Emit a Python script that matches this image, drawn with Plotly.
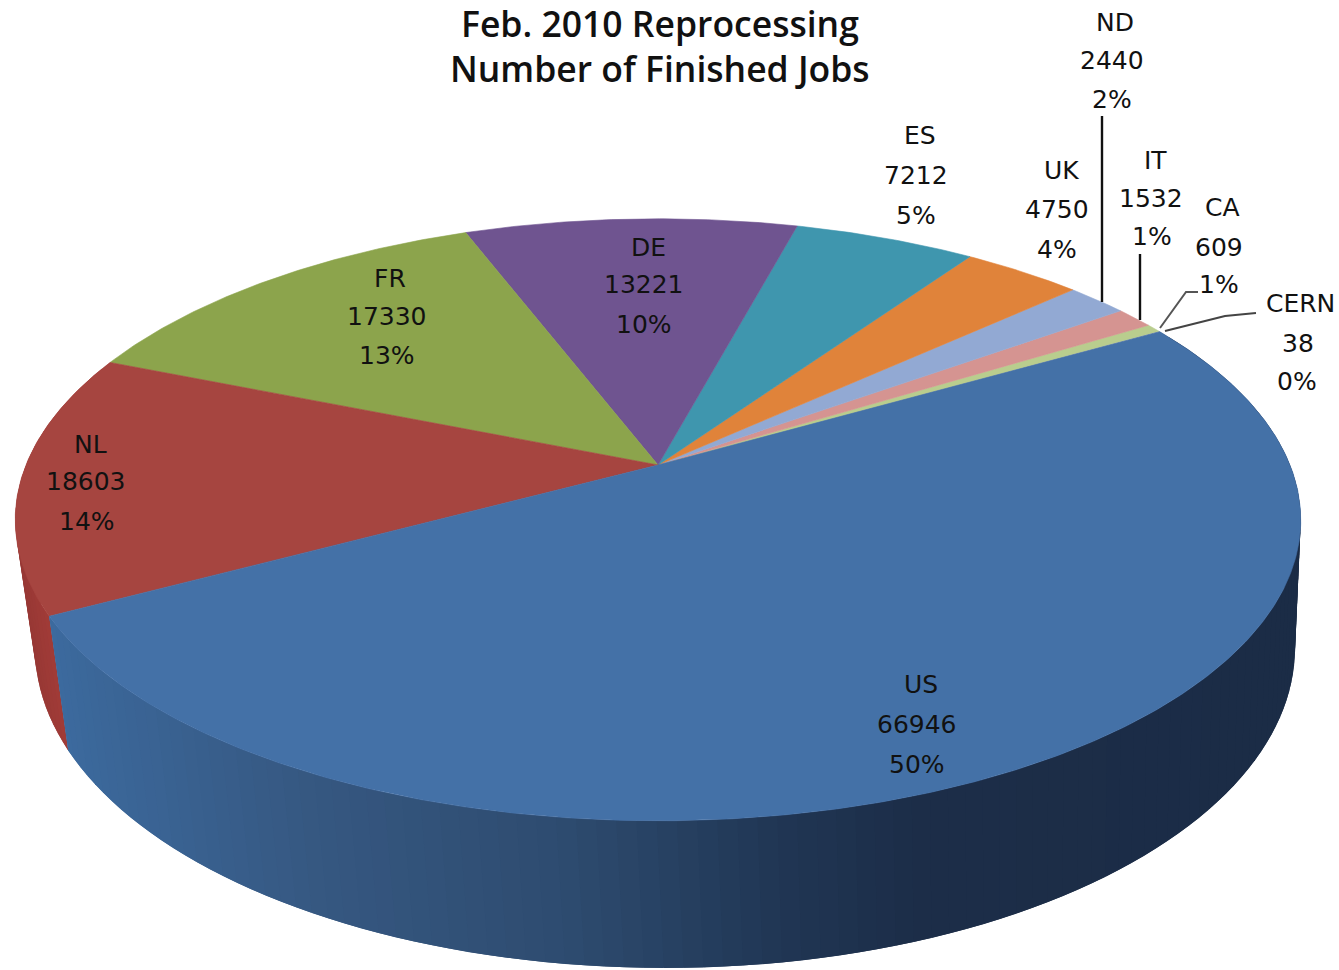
import numpy as np
import plotly.graph_objects as go

# Finished reprocessing jobs per cloud, in clockwise slice order
clouds = ["US", "NL", "FR", "DE", "ES", "UK", "ND", "IT", "CA", "CERN"]
jobs = [66946, 18603, 17330, 13221, 7212, 4750, 2440, 1532, 609, 38]
percent_labels = ["50%", "14%", "13%", "10%", "5%", "4%", "2%", "1%", "1%", "0%"]

slice_colors = ["#4471A7", "#A64540", "#8CA44C", "#6F5490", "#3F96AE",
                "#E0833A", "#92A9D3", "#D59491", "#B9CD8E", "#A99BBD"]

# Centre of each of the three text lines of a label (name, count, percent)
label_lines = {
    "US": [(921, 684), (917, 724), (917, 764)],
    "NL": [(90, 444), (86, 481), (87, 521)],
    "FR": [(390, 278), (387, 316), (387, 355)],
    "DE": [(648, 247), (644, 284), (644, 324)],
    "ES": [(920, 135), (916, 175), (916, 215)],
    "UK": [(1061, 170), (1057, 209), (1057, 249)],
    "ND": [(1115, 22), (1112, 60), (1112, 99)],
    "IT": [(1155, 160), (1151, 198), (1152, 236)],
    "CA": [(1222, 207), (1219, 247), (1219, 284)],
    "CERN": [(1300, 303), (1298, 343), (1297, 381)],
}

START_DEG = 30.0
TILT = 0.1821
TOP_RIM = dict(cx=658.0, cy=465.0, ax=632.0, ay=291.0)
BOTTOM_RIM = dict(cx=665.0, cy=589.7, ax=619.5, ay=309.4)


def project(deg, rim, radius=1.0):
    """Perspective view of a point on the tilted pie disc."""
    t = np.radians(deg)
    u, v = radius * np.cos(t), radius * np.sin(t)
    w = 1 + TILT * v
    return rim["cx"] + rim["ax"] * u / w, rim["cy"] - rim["ay"] * v / w


def mix(stops, x):
    xs = [s[0] for s in stops]
    chans = [np.interp(x, xs, [s[1][i] for s in stops]) for i in range(3)]
    return "rgb(%d,%d,%d)" % tuple(round(c) for c in chans)


# Side-wall shading runs left to right across the lower rim
US_WALL = [(50, (60, 106, 158)), (300, (54, 88, 130)), (560, (46, 76, 112)),
           (780, (32, 54, 84)), (920, (28, 45, 72)), (1300, (27, 44, 70))]
NL_WALL = [(15, (150, 55, 52)), (70, (168, 62, 58))]

fractions = np.array(jobs) / sum(jobs)
edges = START_DEG - 360 * np.concatenate([[0], np.cumsum(fractions)])

fig = go.Figure()


def polygon(xs, ys, color, edge=0.6):
    fig.add_trace(go.Scatter(
        x=xs, y=ys, mode="lines", fill="toself", fillcolor=color,
        line=dict(color=color, width=edge), hoverinfo="skip", showlegend=False,
    ))


# Outer wall in overlapping strips: each one is painted over the tail of
# the strip before it, so no antialiased seams show between them.
for idx, stops in ((1, NL_WALL), (0, US_WALL)):
    a0, a1 = edges[idx + 1], edges[idx]   # from the far end towards the near end
    if idx == 0:
        a0, a1 = edges[idx], edges[idx + 1]
    n = max(8, int(abs(a1 - a0) / 1.5))
    steps = np.linspace(a0, a1, n + 1)
    size = steps[1] - steps[0]
    for k, s0 in enumerate(steps[:-1]):
        s1 = steps[k + 1] if k == n - 1 else steps[k + 1] + size
        inner = np.linspace(s0, s1, 4)
        tx, ty = project(inner, TOP_RIM)
        bx, by = project(inner[::-1], BOTTOM_RIM)
        polygon(np.r_[tx, bx, tx[0]], np.r_[ty, by, ty[0]], mix(stops, tx[:2].mean()), edge=0)

# Top face of the pie
for i in range(len(jobs) - 1, -1, -1):
    arc = np.linspace(edges[i], edges[i + 1], max(4, int(abs(edges[i + 1] - edges[i]) * 2)))
    rx, ry = project(arc, TOP_RIM)
    ox, oy = project(0.0, TOP_RIM, radius=0.0)
    polygon(np.r_[ox, rx, ox], np.r_[oy, ry, oy], slice_colors[i])

# Leader lines for the narrow slices
leaders = [
    ([1102, 1102], [116, 302], "#111111", 2.4),
    ([1140, 1140], [254, 320], "#111111", 2.4),
    ([1160, 1186, 1198], [328, 292, 292], "#555555", 2.0),
    ([1165, 1225, 1256], [331, 316, 313], "#444444", 2.0),
]
for lx, ly, lc, lw in leaders:
    fig.add_trace(go.Scatter(x=lx, y=ly, mode="lines", line=dict(color=lc, width=lw),
                             hoverinfo="skip", showlegend=False))

annotations = []
for name, count, pct in zip(clouds, jobs, percent_labels):
    for text, (x, y) in zip((name, str(count), pct), label_lines[name]):
        annotations.append(dict(
            x=x, y=y, text=text, xref="x", yref="y", showarrow=False,
            xanchor="center", yanchor="middle",
            font=dict(family="DejaVu Sans", size=25, color="#111111"),
        ))
for text, y in (("Feb. 2010 Reprocessing", 23), ("Number of Finished Jobs", 68)):
    annotations.append(dict(
        x=660, y=y, text=text, xref="x", yref="y", showarrow=False,
        xanchor="center", yanchor="middle", height=46, valign="middle",
        font=dict(family="Open Sans", size=35.5, color="#111111", weight=600),
    ))

fig.update_layout(
    width=1339, height=970, margin=dict(l=0, r=0, t=0, b=0),
    paper_bgcolor="white", plot_bgcolor="white", showlegend=False,
    xaxis=dict(range=[0, 1339], visible=False, fixedrange=True),
    yaxis=dict(range=[970, 0], visible=False, fixedrange=True),
    annotations=annotations,
)
fig.write_html("out.html")
